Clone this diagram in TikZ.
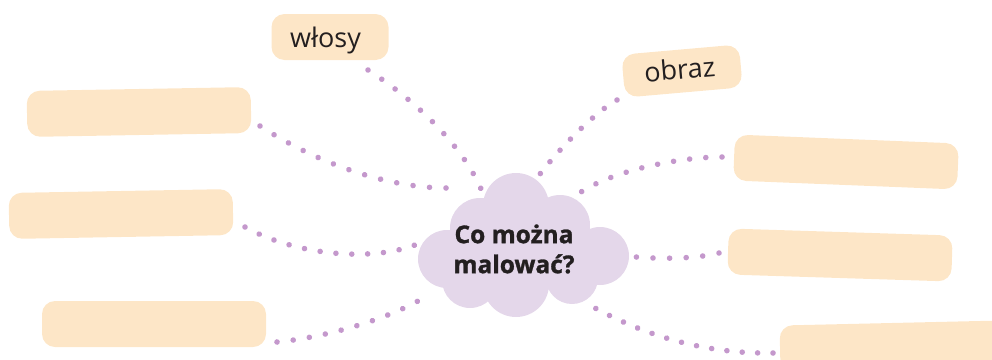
\documentclass[tikz,border=0pt]{standalone}
\usepackage{fontspec}
\setmainfont{Open Sans}
\newfontfamily\cloudfont{Open Sans}[BoldFeatures={FakeBold=1.2}]
\usetikzlibrary{decorations.markings}
\definecolor{boxc}{RGB}{253,230,199}
\definecolor{cloudc}{RGB}{228,215,234}
\definecolor{dotc}{RGB}{196,152,204}
\definecolor{textc}{RGB}{35,31,32}
\begin{document}
\begin{tikzpicture}[x=1pt,y=-1pt,
  box/.style={fill=boxc, rounded corners=13pt, minimum width=224pt, minimum height=46pt, inner sep=0pt, draw=none},
  lbl/.style={text=textc, font=\fontsize{27}{32}\selectfont, inner sep=0pt, anchor=base},
  cloudtext/.style={text=textc, font=\cloudfont\fontsize{24.5}{30}\selectfont\bfseries, align=center, inner sep=0pt},
  dotpath/.style={decorate, decoration={markings, mark=between positions 0 and 1 step #1 with {\fill[dotc] (0pt,0pt) circle (2.8pt);}}}
]
\useasboundingbox (0,0) rectangle (992,359);
\clip (0,0) rectangle (992,359);

% answer boxes
\node[box, rotate=1] (l1) at (139,112) {};
\node[box, rotate=1] (l2) at (121,214) {};
\node[box] (l3) at (154,324) {};
\node[box, rotate=-2.3] (r1) at (846,162) {};
\node[box, rotate=-1.8] (r2) at (840,255) {};
\node[box, rotate=1.3] (r3) at (892,346) {};
\node[box, minimum width=117pt, minimum height=46pt] (wlosy) at (330,37) {};
\node[lbl] (wlosyT) at (325.5,47) {włosy};
\node[box, minimum width=118pt, minimum height=43pt, rotate=5] (obraz) at (682,71) {};
\node[lbl, rotate=5] (obrazT) at (680.5,79) {obraz};

% cloud
\fill[cloudc] (447,259) circle (29pt) (480,228) circle (30pt) (516,206) circle (33pt)
  (560,225) circle (30pt) (600,256) circle (29pt) (572,278) circle (26pt)
  (516,284) circle (33pt) (470,280) circle (28pt) (520,250) circle (42pt);
\node[cloudtext] (cloud) at (514,249) {Co można\\malować?};

% connector end points
\coordinate (w0) at (368,70);   \coordinate (w1) at (481,189);
\coordinate (a0) at (260,126);  \coordinate (a1) at (447,188);
\coordinate (b0) at (245,227);  \coordinate (b1) at (415,245);
\coordinate (c0) at (277,342);  \coordinate (c1) at (418,301);
\coordinate (o0) at (617,100);  \coordinate (o1) at (540,174);
\coordinate (d0) at (722,157);  \coordinate (d1) at (581,192);
\coordinate (e0) at (719,253);  \coordinate (e1) at (636,257);
\coordinate (f0) at (773,353);  \coordinate (f1) at (595,308);

\path[dotpath=0.0995] (w0) .. controls (415,100) and (462,145) .. (w1);
\path[dotpath=0.0829] (a0) .. controls (320,165) and (390,188) .. (a1);
\path[dotpath=0.0905] (b0) .. controls (295,255) and (370,262) .. (b1);
\path[dotpath=0.1105] (c0) .. controls (320,338) and (380,322) .. (c1);
\path[dotpath=0.1421] (o0) .. controls (595,112) and (560,148) .. (o1);
\path[dotpath=0.1105] (d0) .. controls (680,157) and (615,170) .. (d1);
\path[dotpath=0.199] (e0) .. controls (695,259) and (660,259) .. (e1);
\path[dotpath=0.0829] (f0) .. controls (710,354) and (650,338) .. (f1);
\end{tikzpicture}
\end{document}
